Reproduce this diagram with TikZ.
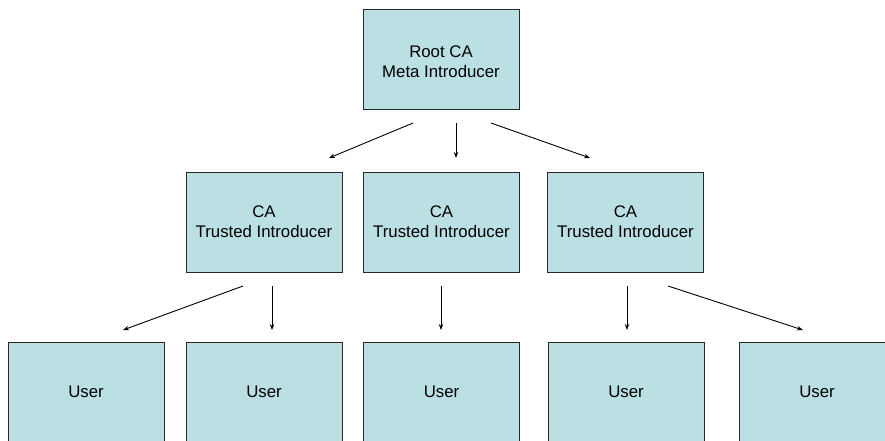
\documentclass[tikz,border=0pt]{standalone}
\usepackage{fontspec}
\setmainfont{Liberation Sans}
\usetikzlibrary{arrows.meta}
\definecolor{boxfill}{RGB}{187,224,227}
\definecolor{boxline}{RGB}{40,40,40}
\tikzset{
  entitytext/.style={align=center, inner sep=0pt, font=\fontsize{16.8}{20}\selectfont},
  entity/.style={draw=boxline, line width=0.9pt, fill=boxfill, rectangle,
    minimum width=156pt, minimum height=100pt, entitytext},
  link/.style={line width=0.9pt, -{Stealth[length=6pt,width=4.5pt]}}
}
\begin{document}
\begin{tikzpicture}[x=1pt,y=-1pt]
  \useasboundingbox (0,0) rectangle (885,440);
  \clip (0,0) rectangle (885,440);

  % hierarchy of introducers
  \node[entity, label={[entitytext, yshift=-2.5pt]center:{Root CA\\Meta Introducer}}] (root) at (441,59) {};

  \node[entity] (ca1) at (264,222) {CA\\Trusted Introducer};
  \node[entity] (ca2) at (441.5,222) {CA\\Trusted Introducer};
  \node[entity] (ca3) at (625.5,222) {CA\\Trusted Introducer};

  \node[entity] (u1) at (86,392) {User};
  \node[entity] (u2) at (264,392) {User};
  \node[entity] (u3) at (441.5,392) {User};
  \node[entity] (u4) at (626,392) {User};
  \node[entity] (u5) at (817,392) {User};

  % arrow end points between the rows
  \coordinate (r1s) at (413,123);  \coordinate (r1e) at (329,158);
  \coordinate (r2s) at (456,123);  \coordinate (r2e) at (456,158);
  \coordinate (r3s) at (491,123);  \coordinate (r3e) at (590,158);

  \coordinate (c1s) at (243,286);  \coordinate (c1e) at (123,330);
  \coordinate (c2s) at (272,286);  \coordinate (c2e) at (272,330);
  \coordinate (c3s) at (441,286);  \coordinate (c3e) at (441,330);
  \coordinate (c4s) at (627,286);  \coordinate (c4e) at (627,330);
  \coordinate (c5s) at (668,286);  \coordinate (c5e) at (803,330);

  \draw[link] (r1s) -- (r1e);
  \draw[link] (r2s) -- (r2e);
  \draw[link] (r3s) -- (r3e);

  \draw[link] (c1s) -- (c1e);
  \draw[link] (c2s) -- (c2e);
  \draw[link] (c3s) -- (c3e);
  \draw[link] (c4s) -- (c4e);
  \draw[link] (c5s) -- (c5e);
\end{tikzpicture}
\end{document}
